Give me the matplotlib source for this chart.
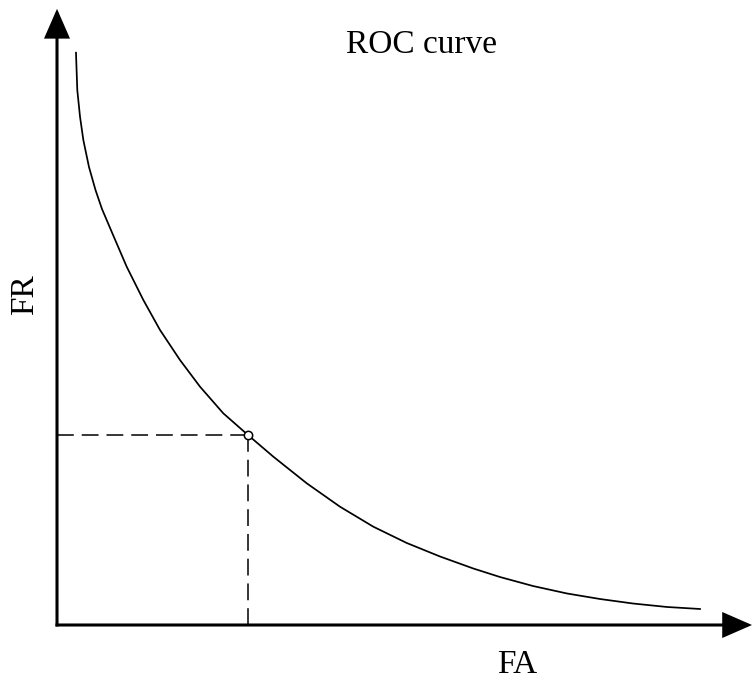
import matplotlib.pyplot as plt

# curve (FA on x, FR on y, arbitrary 0-100 units)
fa = [2.92, 3.12, 3.54, 4.05, 4.92, 5.92, 6.92, 8.69, 10.72, 13.28, 15.85, 18.92, 22.0,
      25.58, 29.38, 33.28, 38.42, 43.54, 48.66, 53.8, 58.92, 64.05, 68.15, 73.23, 78.46,
      83.54, 88.62, 93.85, 98.92]
fr = [100.40, 93.86, 89.18, 85.09, 80.35, 76.32, 72.98, 68.25, 62.86, 57.02, 51.75, 46.49, 41.81,
      37.14, 33.33, 29.53, 24.86, 20.75, 17.25, 14.39, 12.02, 9.91, 8.42, 6.84, 5.53,
      4.56, 3.77, 3.16, 2.81]

# operating point
op_fa = 29.4
op_fr = 33.3

title = "ROC curve"
xlabel = "FA"
ylabel = "FR"

plt.rcParams['font.family'] = ['Liberation Serif', 'DejaVu Serif']

fig = plt.figure(figsize=(7.52, 6.82), dpi=100)
ax = fig.add_axes([0, 0, 1, 1])
ax.set_xlim(-8.77, 106.92)
ax.set_ylim(-10.0, 109.65)
ax.axis('off')

# axes with arrowheads
arrow = dict(arrowstyle='-|>,head_length=1.6,head_width=0.7', mutation_scale=11,
             lw=2.2, color='k', shrinkA=0, shrinkB=0, joinstyle='miter', capstyle='butt')
ax.annotate('', xy=(106.92, 0), xytext=(-0.23, 0), arrowprops=arrow)
ax.annotate('', xy=(0, 108.1), xytext=(0, -0.26), arrowprops=arrow)

ax.plot(fa, fr, color='k', lw=1.25, solid_joinstyle='round')

ax.plot([0, op_fa], [op_fr, op_fr], color='k', lw=1.1, ls=(0, (11, 5.2)))
ax.plot([op_fa, op_fa], [0, op_fr], color='k', lw=1.1, ls=(0, (11, 5.2)))
ax.plot([op_fa], [op_fr], marker='o', ms=6, mfc='white', mec='k', mew=1.1)

fig.text(421 / 752, 1 - 45 / 682, title, fontsize=24, ha='center', va='center')
fig.text(517 / 752, 1 - 665 / 682, xlabel, fontsize=24, ha='center', va='center')
fig.text(25 / 752, 1 - 295 / 682, ylabel, fontsize=24, ha='center', va='center', rotation=90)

fig.savefig('out.png', dpi=100)
